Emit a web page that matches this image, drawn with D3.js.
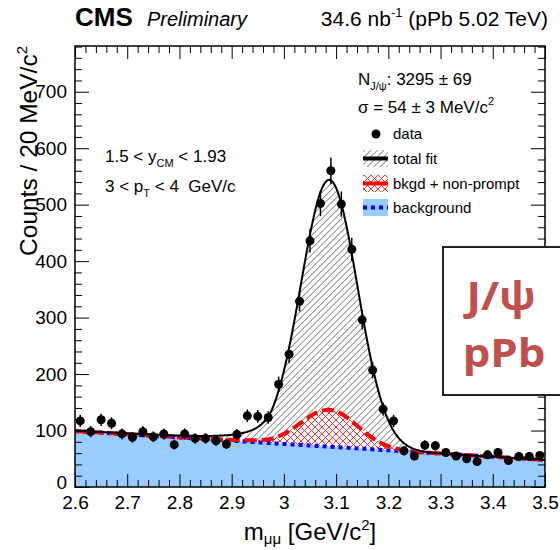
<!DOCTYPE html>
<html>
<head>
<meta charset="utf-8">
<script src="https://cdn.jsdelivr.net/npm/d3@7"></script>
<style>
  html, body { margin: 0; padding: 0; background: #fff; }
  svg { display: block; font-family: "Liberation Sans", Arial, Helvetica, sans-serif; }
</style>
</head>
<body>
<svg id="chart" width="560" height="550"></svg>
<script>
// Dimuon invariant mass, 20 MeV/c^2 bins (bin centres in GeV/c^2)
const massBins = [2.61, 2.63, 2.65, 2.67, 2.69, 2.71, 2.73, 2.75, 2.77, 2.79,
                  2.81, 2.83, 2.85, 2.87, 2.89, 2.91, 2.93, 2.95, 2.97, 2.99,
                  3.01, 3.03, 3.05, 3.07, 3.09, 3.11, 3.13, 3.15, 3.17, 3.19,
                  3.21, 3.23, 3.25, 3.27, 3.29, 3.31, 3.33, 3.35, 3.37, 3.39,
                  3.41, 3.43, 3.45, 3.47, 3.49];
const counts = [117, 98, 119, 113, 94, 88, 98, 89, 94, 75,
                94, 86, 86, 82, 76, 93, 126, 125, 123, 182,
                235, 329, 436, 502, 560, 501, 421, 296, 207, 138,
                117, 64, 55, 74, 73, 61, 55, 50, 45, 57,
                61, 47, 54, 54, 56];
const countErrors = [10.8, 9.9, 10.9, 10.6, 9.7, 9.4, 9.9, 9.4, 9.7, 8.7,
                     9.7, 9.3, 9.3, 9.1, 8.7, 9.6, 11.2, 11.2, 11.1, 13.5,
                     15.3, 18.1, 20.9, 22.4, 23.7, 22.4, 20.5, 17.2, 14.4, 11.7,
                     10.8, 8.0, 7.4, 8.6, 8.5, 7.8, 7.4, 7.1, 6.7, 7.5,
                     7.8, 6.9, 7.3, 7.3, 7.5];

// Fit result: Crystal Ball signal + linear background
const binWidth = 0.02;
const fitYield = 3295;
const fitMean = 3.087;
const fitSigma = 0.054;
const cbAlpha = 2.0;
const cbN = 2.0;
const nonPromptFraction = 0.138;
const bkgdLevels = [99, 48];          // background at 2.6 and 3.5 GeV/c^2

const xTicks = [2.6, 2.7, 2.8, 2.9, 3.0, 3.1, 3.2, 3.3, 3.4, 3.5];
const yTicks = [0, 100, 200, 300, 400, 500, 600, 700];

const svg = d3.select("#chart");
const L = 75, R = 545, T = 46, B = 487;
const x = d3.scaleLinear().domain([2.6, 3.5]).range([L, R]);
const y = d3.scaleLinear().domain([0, 781]).range([B, T]);

// ---- fit model ----
function cbShape(m) {
  const t = (m - fitMean) / fitSigma;
  if (t > -cbAlpha) return Math.exp(-t * t / 2);
  const A = Math.pow(cbN / cbAlpha, cbN) * Math.exp(-cbAlpha * cbAlpha / 2);
  const Bc = cbN / cbAlpha - cbAlpha;
  return A * Math.pow(Bc - t, -cbN);
}
let cbNorm = 0;
for (let m = 0.5; m < 6; m += 0.0002) cbNorm += cbShape(m) * 0.0002;
const signal = m => fitYield * binWidth * cbShape(m) / cbNorm;
const bkgd = m => bkgdLevels[0] + (bkgdLevels[1] - bkgdLevels[0]) * (m - 2.6) / 0.9;

const grid = d3.range(0, 361).map(i => 2.6 + i * 0.0025);
const curve = grid.map(m => ({
  m,
  bkg: bkgd(m),
  np: bkgd(m) + nonPromptFraction * signal(m),
  tot: bkgd(m) + signal(m)
}));

// ---- patterns ----
const defs = svg.append("defs");
const hatch = defs.append("pattern").attr("id", "hatch")
  .attr("patternUnits", "userSpaceOnUse").attr("width", 4.6).attr("height", 4.6)
  .attr("patternTransform", "rotate(45)");
hatch.append("line").attr("x1", 0).attr("y1", 0).attr("x2", 0).attr("y2", 4.6)
  .attr("stroke", "#222").attr("stroke-width", 1);

const cross = defs.append("pattern").attr("id", "cross")
  .attr("patternUnits", "userSpaceOnUse").attr("width", 7).attr("height", 7);
cross.append("path").attr("d", "M0,0L7,7M7,0L0,7M-1,6L1,8M6,-1L8,1M-1,1L1,-1M6,8L8,6")
  .attr("stroke", "#ff2020").attr("stroke-width", 0.9).attr("fill", "none");

defs.append("clipPath").attr("id", "plotClip")
  .append("rect").attr("x", L).attr("y", T).attr("width", R - L).attr("height", B - T);

const plot = svg.append("g").attr("clip-path", "url(#plotClip)");

// background fill
plot.append("path").datum(curve)
  .attr("d", d3.area().x(d => x(d.m)).y0(y(0)).y1(d => y(d.bkg)))
  .attr("fill", "#99ccff");
// non-prompt cross-hatch
plot.append("path").datum(curve)
  .attr("d", d3.area().x(d => x(d.m)).y0(d => y(d.bkg)).y1(d => y(d.np)))
  .attr("fill", "url(#cross)");
// total fit hatch
plot.append("path").datum(curve)
  .attr("d", d3.area().x(d => x(d.m)).y0(d => y(d.np)).y1(d => y(d.tot)))
  .attr("fill", "url(#hatch)");

// curves
plot.append("path").datum(curve)
  .attr("d", d3.line().x(d => x(d.m)).y(d => y(d.bkg)))
  .attr("fill", "none").attr("stroke", "#0000ff").attr("stroke-width", 4)
  .attr("stroke-dasharray", "4,4");
plot.append("path").datum(curve)
  .attr("d", d3.line().x(d => x(d.m)).y(d => y(d.np)))
  .attr("fill", "none").attr("stroke", "#ff0000").attr("stroke-width", 4)
  .attr("stroke-dasharray", "12,5");
plot.append("path").datum(curve)
  .attr("d", d3.line().x(d => x(d.m)).y(d => y(d.tot)))
  .attr("fill", "none").attr("stroke", "#000").attr("stroke-width", 2);

// data points
const pts = svg.append("g");
pts.selectAll("line.err").data(massBins).join("line")
  .attr("x1", d => x(d)).attr("x2", d => x(d))
  .attr("y1", (d, i) => y(counts[i] - countErrors[i]))
  .attr("y2", (d, i) => y(counts[i] + countErrors[i]))
  .attr("stroke", "#000").attr("stroke-width", 1.5);
pts.selectAll("circle").data(massBins).join("circle")
  .attr("cx", d => x(d)).attr("cy", (d, i) => y(counts[i])).attr("r", 4.5)
  .attr("fill", "#000");

// ---- axes ----
const xMinor = d3.range(0, 46).map(i => +(2.6 + i * 0.02).toFixed(2))
  .filter(v => !xTicks.some(t => Math.abs(t - v) < 1e-6));
const yMinor = d3.range(0, 40).map(i => i * 20).filter(v => v % 100 !== 0);

function styleAxis(g) {
  g.select(".domain").remove();
  g.selectAll(".tick line").attr("stroke", "#000").attr("stroke-width", 1);
  g.selectAll("text").attr("fill", "#000").attr("font-size", 19)
    .attr("font-family", "Liberation Sans, Arial, sans-serif");
}

svg.append("g").attr("transform", `translate(0,${B})`)
  .call(d3.axisBottom(x).tickValues(xTicks).tickSize(-13).tickPadding(9).tickFormat(d => String(d)))
  .call(styleAxis);
svg.append("g").attr("transform", `translate(0,${B})`)
  .call(d3.axisBottom(x).tickValues(xMinor).tickSize(-7).tickFormat(""))
  .call(styleAxis);
svg.append("g").attr("transform", `translate(0,${T})`)
  .call(d3.axisTop(x).tickValues(xTicks).tickSize(-13).tickFormat(""))
  .call(styleAxis);
svg.append("g").attr("transform", `translate(0,${T})`)
  .call(d3.axisTop(x).tickValues(xMinor).tickSize(-7).tickFormat(""))
  .call(styleAxis);

const yAxisG = svg.append("g").attr("transform", `translate(${L},0)`)
  .call(d3.axisLeft(y).tickValues(yTicks).tickSize(-14).tickPadding(8))
  .call(styleAxis);
// keep the zero label clear of the first mass label
yAxisG.selectAll(".tick text").filter(d => d === 0).attr("dy", "0.1em");
svg.append("g").attr("transform", `translate(${L},0)`)
  .call(d3.axisLeft(y).tickValues(yMinor).tickSize(-7).tickFormat(""))
  .call(styleAxis);
svg.append("g").attr("transform", `translate(${R},0)`)
  .call(d3.axisRight(y).tickValues(yTicks).tickSize(-14).tickFormat(""))
  .call(styleAxis);
svg.append("g").attr("transform", `translate(${R},0)`)
  .call(d3.axisRight(y).tickValues(yMinor).tickSize(-7).tickFormat(""))
  .call(styleAxis);

svg.append("rect").attr("x", L).attr("y", T).attr("width", R - L).attr("height", B - T)
  .attr("fill", "none").attr("stroke", "#000").attr("stroke-width", 1.5);

// ---- axis titles ----
const yt = svg.append("text").attr("transform", "translate(37,46) rotate(-90)")
  .attr("text-anchor", "end").attr("font-size", 24.5).attr("fill", "#000");
yt.append("tspan").text("Counts / 20 MeV/c");
yt.append("tspan").attr("font-size", 15).attr("dy", -10).text("2");

const xt = svg.append("text").attr("x", 310).attr("y", 540)
  .attr("text-anchor", "middle").attr("font-size", 24).attr("fill", "#000");
xt.append("tspan").text("m");
xt.append("tspan").attr("font-size", 15).attr("dy", 4).text("μμ");
xt.append("tspan").attr("dy", -4).text(" [GeV/c");
xt.append("tspan").attr("font-size", 15).attr("dy", -10).text("2");
xt.append("tspan").attr("dy", 10).text("]");

// ---- header ----
svg.append("text").attr("x", 75).attr("y", 26).attr("font-size", 26)
  .attr("font-weight", "bold").attr("fill", "#000").text("CMS");
svg.append("text").attr("x", 147).attr("y", 26).attr("font-size", 20)
  .attr("font-style", "italic").attr("fill", "#000").text("Preliminary");
const lumi = svg.append("text").attr("x", 548).attr("y", 26).attr("font-size", 21)
  .attr("text-anchor", "end").attr("fill", "#000");
lumi.append("tspan").text("34.6 nb");
lumi.append("tspan").attr("font-size", 13).attr("dy", -9).text("-1");
lumi.append("tspan").attr("dy", 9).text(" (pPb 5.02 TeV)");

// ---- fit summary ----
const nt = svg.append("text").attr("x", 358).attr("y", 85).attr("font-size", 17).attr("fill", "#000");
nt.append("tspan").text("N");
nt.append("tspan").attr("font-size", 11).attr("dy", 5).text("J/ψ");
nt.append("tspan").attr("dy", -5).text(`: ${fitYield} ± 69`);
const st = svg.append("text").attr("x", 358).attr("y", 113).attr("font-size", 17).attr("fill", "#000");
st.append("tspan").text(`σ = ${Math.round(fitSigma * 1000)} ± 3 MeV/c`);
st.append("tspan").attr("font-size", 11).attr("dy", -8).text("2");

// ---- kinematic range ----
const k1 = svg.append("text").attr("x", 105).attr("y", 162).attr("font-size", 17).attr("fill", "#000");
k1.append("tspan").text("1.5 < y");
k1.append("tspan").attr("font-size", 11).attr("dy", 5).text("CM");
k1.append("tspan").attr("dy", -5).text(" < 1.93");
const k2 = svg.append("text").attr("x", 105).attr("y", 192).attr("font-size", 17).attr("fill", "#000");
k2.append("tspan").text("3 < p");
k2.append("tspan").attr("font-size", 11).attr("dy", 5).text("T");
k2.append("tspan").attr("dy", -5).text(" < 4\u00a0 GeV/c");

// ---- legend ----
const lg = svg.append("g");
lg.append("circle").attr("cx", 376).attr("cy", 134).attr("r", 4.5).attr("fill", "#000");
lg.append("text").attr("x", 393).attr("y", 139).attr("font-size", 15).text("data");

lg.append("rect").attr("x", 363).attr("y", 150).attr("width", 25).attr("height", 17).attr("fill", "url(#hatch)");
lg.append("line").attr("x1", 363).attr("x2", 388).attr("y1", 158.5).attr("y2", 158.5)
  .attr("stroke", "#000").attr("stroke-width", 4);
lg.append("text").attr("x", 393).attr("y", 164).attr("font-size", 15).text("total fit");

lg.append("rect").attr("x", 363).attr("y", 175).attr("width", 25).attr("height", 17).attr("fill", "url(#cross)");
lg.append("line").attr("x1", 363).attr("x2", 388).attr("y1", 183.5).attr("y2", 183.5)
  .attr("stroke", "#ff0000").attr("stroke-width", 4);
lg.append("text").attr("x", 393).attr("y", 189).attr("font-size", 15).text("bkgd + non-prompt");

lg.append("rect").attr("x", 363).attr("y", 199).attr("width", 25).attr("height", 17).attr("fill", "#99ccff");
lg.append("line").attr("x1", 363).attr("x2", 388).attr("y1", 207.5).attr("y2", 207.5)
  .attr("stroke", "#0000ff").attr("stroke-width", 4).attr("stroke-dasharray", "4,4");
lg.append("text").attr("x", 393).attr("y", 213).attr("font-size", 15).text("background");

// ---- tag box ----
svg.append("rect").attr("x", 443).attr("y", 247).attr("width", 130).attr("height", 148)
  .attr("fill", "#fff").attr("stroke", "#222").attr("stroke-width", 2);
svg.append("text").attr("transform", "translate(501,310) scale(1.12,1)").attr("text-anchor", "middle")
  .attr("font-family", "Open Sans, Noto Sans, sans-serif").attr("font-weight", "bold")
  .attr("font-size", 39).attr("fill", "#c0504d").text("J/ψ");
svg.append("text").attr("transform", "translate(504,367) scale(1.12,1)").attr("text-anchor", "middle")
  .attr("font-family", "Open Sans, Noto Sans, sans-serif").attr("font-weight", "bold")
  .attr("font-size", 39).attr("fill", "#c0504d").text("pPb");
</script>
</body>
</html>
